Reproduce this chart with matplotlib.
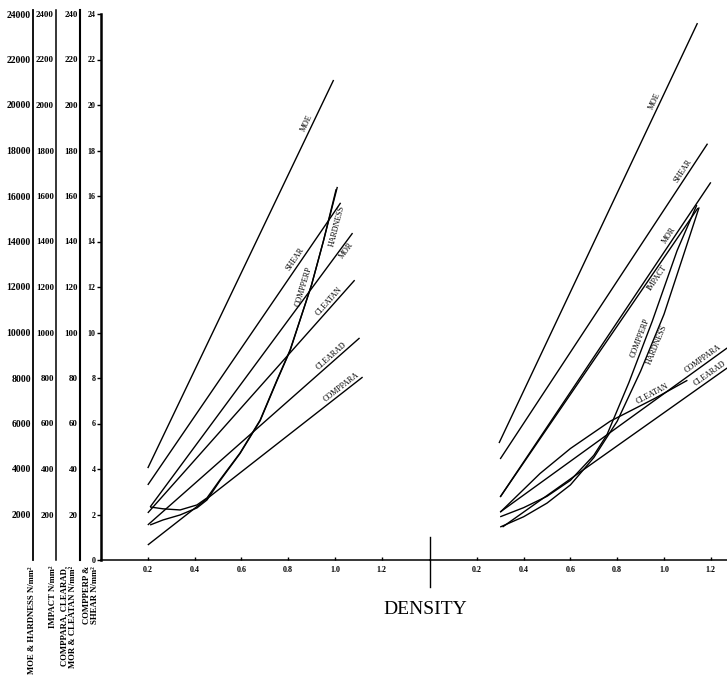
import numpy as np
import matplotlib
matplotlib.use("Agg")
import matplotlib.pyplot as plt
from matplotlib.lines import Line2D

# ---------------- data (native units) ----------------
# scale factors: value / factor -> common plotting scale (0-24)
SCALE = {"MOE": 1000, "HARDNESS": 1000, "IMPACT": 100,
         "COMPPARA": 10, "CLEARAD": 10, "MOR": 10, "CLEATAN": 10,
         "COMPPERP": 1, "SHEAR": 1}

# left panel
moe_l_x = [0.20, 0.994]
moe_l_y = [4040, 21100]
shear_l_x = [0.20, 1.024]
shear_l_y = [3.3, 15.7]
mor_l_x = [0.21, 1.075]
mor_l_y = [23.3, 143.7]
cleatan_l_x = [0.20, 1.084]
cleatan_l_y = [20.7, 123.0]
clearad_l_x = [0.20, 1.105]
clearad_l_y = [15.4, 97.6]
comppara_l_x = [0.20, 1.118]
comppara_l_y = [6.6, 80.4]
hardness_l_x = [0.21, 0.265, 0.338, 0.41, 0.453, 0.508, 0.594, 0.68, 0.752, 0.808, 0.90, 0.95, 1.01]
hardness_l_y = [2330, 2250, 2200, 2420, 2730, 3520, 4700, 6150, 7910, 9230, 12100, 14000, 16400]
compperp_l_x = [0.21, 0.265, 0.338, 0.41, 0.453, 0.508, 0.594, 0.68, 0.752, 0.808, 0.90, 0.95, 1.005]
compperp_l_y = [1.54, 1.76, 1.98, 2.29, 2.64, 3.48, 4.68, 6.12, 7.88, 9.2, 12.1, 14.0, 16.3]

# right panel
moe_r_x = [0.295, 1.143]
moe_r_y = [5140, 23600]
shear_r_x = [0.30, 1.186]
shear_r_y = [4.44, 18.3]
mor_r_x = [0.30, 1.20]
mor_r_y = [27.7, 166.0]
impact_r_x = [0.30, 1.145]
impact_r_y = [277, 1547]
compperp_r_x = [0.30, 0.40, 0.50, 0.60, 0.70, 0.756, 0.85, 0.95, 1.056, 1.14]
compperp_r_y = [1.9, 2.3, 2.8, 3.5, 4.6, 5.5, 7.8, 10.5, 13.6, 15.6]
hardness_r_x = [0.30, 0.40, 0.50, 0.60, 0.70, 0.80, 0.90, 1.00, 1.08, 1.15]
hardness_r_y = [1450, 1900, 2500, 3300, 4500, 6100, 8300, 10800, 13300, 15500]
cleatan_r_x = [0.30, 0.38, 0.47, 0.60, 0.77, 0.96, 1.10]
cleatan_r_y = [21, 29, 38, 49, 61, 71, 79]
comppara_r_x = [0.30, 1.27]
comppara_r_y = [21.1, 93.2]
clearad_r_x = [0.31, 1.27]
clearad_r_y = [14.5, 84.4]

left_ticks = [0.2, 0.4, 0.6, 0.8, 1.0, 1.2]
right_ticks = [0.2, 0.4, 0.6, 0.8, 1.0, 1.2]
main_yticks = list(range(0, 25, 2))
moe_ticks = list(range(2000, 24001, 2000))
impact_ticks = list(range(200, 2401, 200))
comppara_ticks = list(range(20, 241, 20))

# ---------------- layout ----------------
W, H = 727, 685
plt.rcParams["font.family"] = ["Liberation Serif", "DejaVu Serif"]
fig = plt.figure(figsize=(W / 100, H / 100), dpi=100)

def fx(px):
    return px / W

def fy(py):
    return 1 - py / H

y_top, y_bot = 14, 560
ax_h = (y_bot - y_top) / H
x0, xc = 101, 430
PX_PER_X = 234.0

axL = fig.add_axes([fx(x0), fy(y_bot), (xc - x0) / W, ax_h])
axR = fig.add_axes([fx(xc), fy(y_bot), (W - xc) / W, ax_h])
axL.set_xlim(0, (xc - x0) / PX_PER_X)
axR.set_xlim(0, (W - xc) / PX_PER_X)
for a in (axL, axR):
    a.set_ylim(0, 24)
    a.patch.set_alpha(0)
    for s in ("top", "right"):
        a.spines[s].set_visible(False)
    a.spines["bottom"].set_linewidth(1.1)
axR.spines["left"].set_visible(False)
axR.set_yticks([])

axL.spines["left"].set_linewidth(1.8)
axL.set_yticks(main_yticks)
axL.set_yticklabels([str(v) for v in main_yticks], fontsize=5.8, fontweight="bold")
axL.tick_params(axis="y", direction="out", length=3, width=1, pad=1.0)
for a, t in ((axL, left_ticks), (axR, right_ticks)):
    a.set_xticks(t)
    a.set_xticklabels([f"{v:.1f}" for v in t], fontsize=5.8, fontweight="bold")
    a.tick_params(axis="x", direction="in", length=2, width=1, pad=4)

# extra scale axes
def extra_axis(px, top_val, ticks, lw, fs):
    top_px = 10
    ea = fig.add_axes([fx(px), fy(y_bot), 0.001, (y_bot - top_px) / H])
    ea.set_ylim(0, top_val * (y_bot - top_px) / (y_bot - y_top))
    ea.set_xticks([])
    for s in ("top", "right", "bottom"):
        ea.spines[s].set_visible(False)
    ea.spines["left"].set_linewidth(lw)
    ea.patch.set_alpha(0)
    ea.set_yticks(ticks)
    ea.set_yticklabels([str(v) for v in ticks], fontsize=fs, fontweight="bold")
    ea.tick_params(axis="y", length=0, pad=1.5)
    return ea

extra_axis(33, 24000, moe_ticks, 1.3, 7.0)
extra_axis(56, 2400, impact_ticks, 1.1, 6.5)
extra_axis(80, 240, comppara_ticks, 1.5, 6.5)

# ---------------- curves ----------------
def scaled(name, ys):
    return np.asarray(ys, dtype=float) / SCALE[name]

left_curves = [
    ("MOE", moe_l_x, moe_l_y), ("SHEAR", shear_l_x, shear_l_y),
    ("MOR", mor_l_x, mor_l_y), ("CLEATAN", cleatan_l_x, cleatan_l_y),
    ("CLEARAD", clearad_l_x, clearad_l_y), ("COMPPARA", comppara_l_x, comppara_l_y),
    ("HARDNESS", hardness_l_x, hardness_l_y), ("COMPPERP", compperp_l_x, compperp_l_y),
]
right_curves = [
    ("MOE", moe_r_x, moe_r_y), ("SHEAR", shear_r_x, shear_r_y),
    ("MOR", mor_r_x, mor_r_y), ("IMPACT", impact_r_x, impact_r_y),
    ("COMPPERP", compperp_r_x, compperp_r_y), ("HARDNESS", hardness_r_x, hardness_r_y),
    ("CLEATAN", cleatan_r_x, cleatan_r_y), ("COMPPARA", comppara_r_x, comppara_r_y),
    ("CLEARAD", clearad_r_x, clearad_r_y),
]
curves = {}
for a, lst, side in ((axL, left_curves, "L"), (axR, right_curves, "R")):
    for name, xs, ys in lst:
        a.plot(xs, scaled(name, ys), color="black", lw=1.0, solid_capstyle="butt",
               clip_on=False)
        curves[(side, name)] = (a, np.asarray(xs, float), scaled(name, ys))

fig.canvas.draw()

def label(side, name, xpos, offset=1.0, below=False):
    a, xs, ys = curves[(side, name)]
    yv = np.interp(xpos, xs, ys)
    dx = 0.02
    p1 = a.transData.transform((xpos - dx, np.interp(xpos - dx, xs, ys)))
    p2 = a.transData.transform((xpos + dx, np.interp(xpos + dx, xs, ys)))
    ang = np.degrees(np.arctan2(p2[1] - p1[1], p2[0] - p1[0]))
    nx, ny = -np.sin(np.radians(ang)), np.cos(np.radians(ang))
    sgn = -1 if below else 1
    a.annotate(name, (xpos, yv), xytext=(sgn * offset * nx, sgn * offset * ny),
               textcoords="offset points", rotation=ang, rotation_mode="anchor",
               ha="center", va="top" if below else "bottom", fontsize=5.8)

label("L", "MOE", 0.90)
label("L", "SHEAR", 0.85)
label("L", "COMPPERP", 0.895, offset=2.5)
label("L", "HARDNESS", 0.97, offset=4, below=True)
label("L", "MOR", 1.03, offset=1, below=True)
label("L", "CLEATAN", 0.99)
label("L", "CLEARAD", 1.0)
label("L", "COMPPARA", 1.04)
label("R", "MOE", 0.98)
label("R", "SHEAR", 1.1)
label("R", "MOR", 1.04)
label("R", "IMPACT", 0.95, offset=1, below=True)
label("R", "COMPPERP", 0.92)
label("R", "HARDNESS", 0.95, below=True)
label("R", "CLEATAN", 0.96)
label("R", "COMPPARA", 1.18)
label("R", "CLEARAD", 1.21)

# centre cross on the density axis
fig.add_artist(Line2D([fx(xc), fx(xc)], [fy(537), fy(587)], color="black", lw=1.0))

fig.text(fx(425), fy(610), "DENSITY", fontsize=14, ha="center", va="center")

for px, txt in ((32, "MOE & HARDNESS N/mm²"), (53, "IMPACT N/mm²"),
                (68.5, "COMPPARA, CLEARAD,\nMOR & CLEATAN N/mm²"),
                (91, "COMPPERP &\nSHEAR N/mm²")):
    fig.text(fx(px), fy(566), txt, rotation=90, ha="center", va="top",
             fontsize=6.3, fontweight="bold", linespacing=1.05, multialignment="right")

fig.savefig("out.png", dpi=100, facecolor="white")
